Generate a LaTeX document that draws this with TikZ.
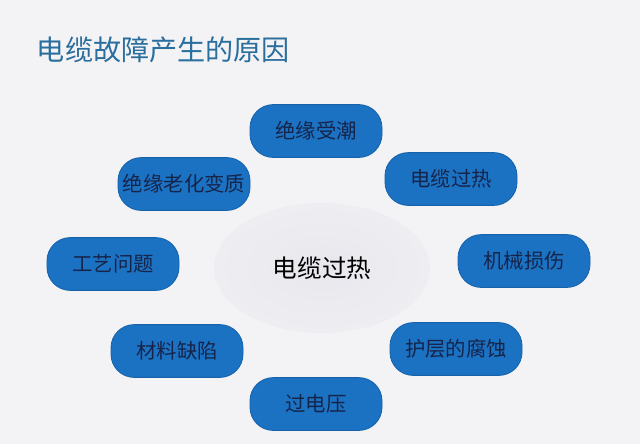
\documentclass[tikz,border=0pt]{standalone}
\usepackage{fontspec}
\setmainfont{Noto Sans CJK SC}
\newfontfamily\cjk{Noto Sans CJK SC}
\usetikzlibrary{shapes, positioning, calc}

\definecolor{bgcol}{HTML}{F3F3F5}
\definecolor{boxblue}{HTML}{1B72C2}
\definecolor{boxedge}{HTML}{1662AA}
\definecolor{boxtext}{HTML}{16244A}
\definecolor{titleblue}{HTML}{2A6E9E}
\definecolor{ellin}{HTML}{E7E7ED}
\definecolor{ellout}{HTML}{EEEEF2}

\begin{document}
\begin{tikzpicture}[
    cause/.style={rectangle, rounded corners=0.58cm, draw=boxedge, line width=0.6pt, fill=boxblue,
        minimum width=3.3cm, minimum height=1.32cm, text=boxtext,
        font=\cjk\fontsize{14.5}{16}\selectfont},
    hub/.style={ellipse, inner color=ellin, outer color=ellout,
        minimum width=5.4cm, minimum height=3.25cm,
        font=\cjk\fontsize{17.5}{20}\selectfont}
]

% 背景
\fill[bgcol] (0,0) rectangle (16,11.1);
\useasboundingbox (0,0) rectangle (16,11.1);

% 标题
\node[anchor=west, text=titleblue, font=\cjk\fontsize{20}{24}\selectfont] (title) at (0.8, 9.85) {电缆故障产生的原因};

% 中心
\node[hub] (hub) at (8.05, 4.4) {电缆过热};

% 原因
\node[cause] (c1) at (7.9, 7.825) {绝缘受潮};
\node[cause] (c2) at (11.275, 6.625) {电缆过热};
\node[cause] (c3) at (4.6, 6.5) {绝缘老化变质};
\node[cause] (c4) at (2.825, 4.5) {工艺问题};
\node[cause] (c5) at (13.1, 4.575) {机械损伤};
\node[cause] (c6) at (4.425, 2.325) {材料缺陷};
\node[cause] (c7) at (11.4, 2.375) {护层的腐蚀};
\node[cause] (c8) at (7.9, 1.0) {过电压};

\end{tikzpicture}
\end{document}
